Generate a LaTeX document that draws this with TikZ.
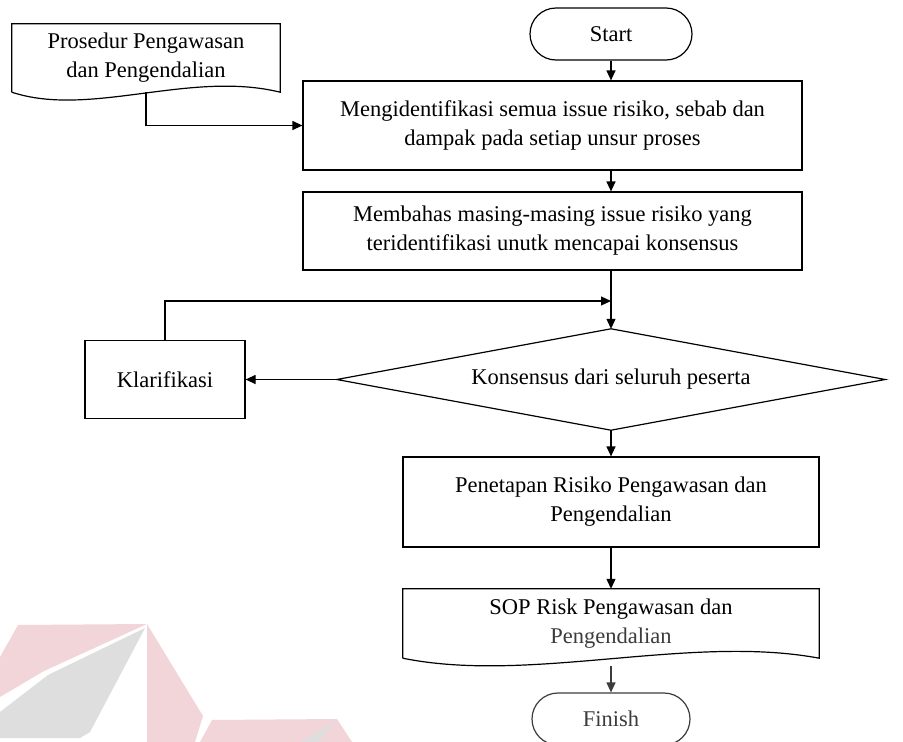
\documentclass[tikz,border=0pt]{standalone}
\usepackage{fontspec}
\setmainfont{Liberation Serif}
\usetikzlibrary{arrows.meta,calc}
\definecolor{wmpink}{HTML}{F2D5D9}
\definecolor{wmgrey}{HTML}{DEDEDE}
\definecolor{soft}{HTML}{3C3C3C}
\begin{document}
\begin{tikzpicture}[x=1pt,y=-1pt,
  every node/.style={font=\fontsize{22.5}{29}\selectfont, align=center, inner sep=0pt},
  procbox/.style={draw, line width=1.2pt, rectangle},
  termbox/.style={draw, line width=1.2pt, rectangle, rounded corners=26pt},
  docbox/.style={rectangle},
  link/.style={line width=1.2pt, -{Triangle[length=10pt,width=9pt]}},
  plain/.style={line width=1.2pt}]
\useasboundingbox (0,0) rectangle (903,742);
\clip (0,0) rectangle (903,742);
\fill[white] (0,0) rectangle (903,742);

% faded logo in the lower left corner
\fill[wmpink] (18,625) -- (147,624) -- (44,671) -- (0,697) -- (0,657) -- cycle;
\fill[wmgrey] (145,628) -- (90,732) -- (80,738) -- (0,738) -- (0,712) -- (48,675) -- cycle;
\fill[wmpink] (147,624) -- (203,716) -- (195,742) -- (147,742) -- cycle;
\fill[wmpink] (212,720) -- (337,719) -- (352,742) -- (200,742) -- cycle;
\fill[wmgrey] (335,722) -- (318,742) -- (300,742) -- cycle;

% nodes
\node[termbox, minimum width=162pt, minimum height=52pt] (start) at (611,34) {Start};
\node[docbox, minimum width=268pt, minimum height=68pt] (pros) at (146,58) {Prosedur Pengawasan\\dan Pengendalian};
\node[procbox, minimum width=499pt, minimum height=89pt] (box1) at (552.5,125.5)
  {Mengidentifikasi semua issue risiko, sebab dan\\dampak pada setiap unsur proses};
\node[procbox, minimum width=499pt, minimum height=78pt] (box2) at (552.5,231)
  {Membahas masing-masing issue risiko yang\\teridentifikasi unutk mencapai konsensus};
\node[minimum width=548pt, minimum height=101pt] (dec) at (611,379.5) {Konsensus dari seluruh peserta};
\node[procbox, minimum width=160pt, minimum height=78pt] (klar) at (165,379.5) {Klarifikasi};
\node[procbox, minimum width=416pt, minimum height=90pt] (pen) at (611,502)
  {Penetapan Risiko Pengawasan dan\\Pengendalian};
\node[docbox, minimum width=416pt, minimum height=69pt] (sop) at (611,623.5)
  {SOP Risk Pengawasan dan\\\textcolor{soft}{Pengendalian}};
\node[termbox, draw=soft, text=soft, minimum width=158pt, minimum height=52pt] (fin) at (611,719) {Finish};

% decision outline
\draw[plain] (dec.north) -- (dec.east) -- (dec.south) -- (dec.west) -- cycle;

% document outlines with wavy bottoms
\draw[plain] (pros.south west) -- (pros.north west) -- (pros.north east) -- (pros.south east)
  .. controls (190,70) and (90,118) .. (pros.south west);
\draw[plain] (sop.south west) -- (sop.north west) -- (sop.north east) -- (sop.south east)
  .. controls (690,634) and (530,684) .. (sop.south west);

% connectors
\coordinate (join) at (611,301);
\draw[link] (start) -- (start |- box1.north);
\draw[link] (pros.south) |- (box1.west);
\draw[link] (box1.south -| start) -- (box2.north -| start);
\draw[link] (box2.south -| dec) -- (dec.north);
\draw[link] (klar.north) |- (join);
\draw[link] (dec.west) -- (klar.east);
\draw[link] (dec.south) -- (pen.north);
\draw[link] (pen.south) -- (sop.north);
\draw[link, draw=soft, fill=soft] ($(sop.south)+(0,8)$) -- (fin.north);
\end{tikzpicture}
\end{document}
